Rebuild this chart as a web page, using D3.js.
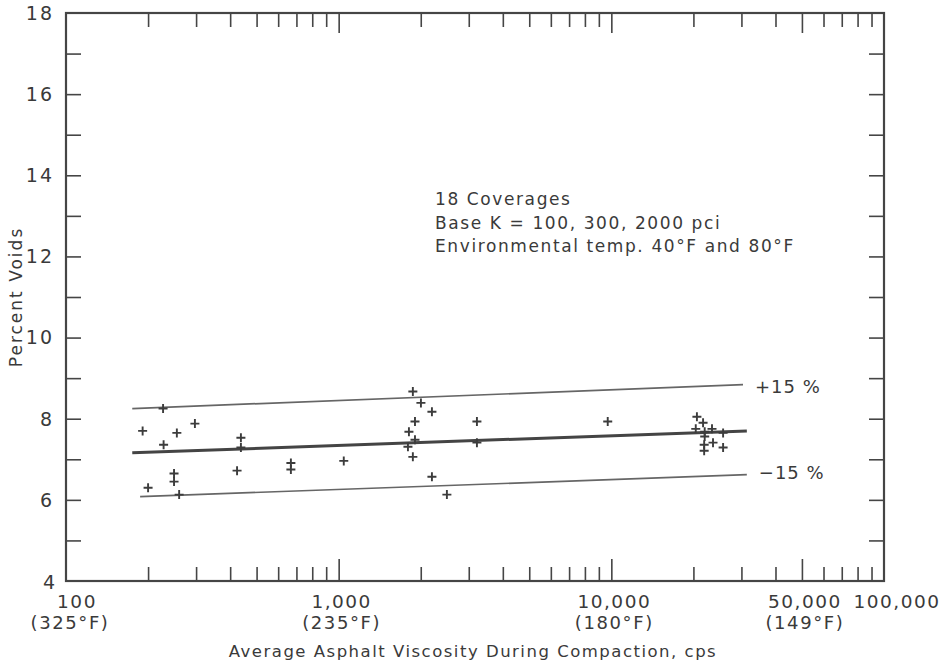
<!DOCTYPE html>
<html>
<head>
  <meta charset="UTF-8" />
  <title>Percent voids vs viscosity</title>
  <script src="https://cdn.jsdelivr.net/npm/d3@7"></script>
  <style>
    body { margin: 0; background: #fff; }
    text { font-family: "DejaVu Sans", sans-serif; fill: #3a3a3a; }
  </style>
</head>
<body>
  <svg width="945" height="663"></svg>
  <script>
    // data
    var viscosity = [191, 227, 255, 297, 228, 200, 249, 249, 260, 438, 438, 424, 668, 668, 1044,
      1871, 2003, 2198, 1905, 1810, 1905, 1795, 1871, 2198, 2494, 3214, 3214, 9700,
      20600, 21700, 20400, 22000, 23400, 25700, 22000, 21900, 21900, 23600, 25700];
    var voids = [7.70, 8.25, 7.65, 7.88, 7.36, 6.30, 6.65, 6.45, 6.13, 7.53, 7.29, 6.72, 6.91, 6.75, 6.96,
      8.67, 8.39, 8.17, 7.93, 7.68, 7.48, 7.31, 7.06, 6.57, 6.13, 7.93, 7.41, 7.93,
      8.05, 7.90, 7.75, 7.68, 7.75, 7.65, 7.56, 7.36, 7.21, 7.41, 7.29];

    // fitted line and +/-15% band (endpoints)
    var fitX = [175, 31400];
    var fitY = [7.16, 7.70];
    var upperX = [175, 30400];
    var upperY = [8.25, 8.84];
    var lowerX = [187, 31400];
    var lowerY = [6.08, 6.62];

    var yTicks = [4, 6, 8, 10, 12, 14, 16, 18];
    var xLabels = [
      { v: 100, a: "100", b: "(325°F)" },
      { v: 1000, a: "1,000", b: "(235°F)" },
      { v: 10000, a: "10,000", b: "(180°F)" },
      { v: 50000, a: "50,000", b: "(149°F)" },
      { v: 100000, a: "100,000", b: "" }
    ];
    var majorTicks = [1000, 10000, 50000];
    var notes = ["18  Coverages", "Base K = 100, 300, 2000 pci", "Environmental  temp. 40°F and 80°F"];

    var svg = d3.select("svg");
    var marge = { top: 13, left: 66, right: 61, bottom: 82 };
    var width = 945 - marge.left - marge.right;
    var height = 663 - marge.top - marge.bottom;
    var g = svg.append("g").attr("transform", "translate(" + marge.left + "," + marge.top + ")");

    var x = d3.scaleLog().domain([100, 100000]).range([0, width]);
    var y = d3.scaleLinear().domain([4, 18]).range([height, 0]);

    var axisColor = "#454545";

    // minor ticks on log axis
    var minor = [];
    [100, 1000, 10000].forEach(function (d) {
      for (var k = 2; k <= 9; k++) minor.push(d * k);
    });
    minor = minor.filter(function (v) { return majorTicks.indexOf(v) < 0; });

    function styleTicks(s) {
      s.select(".domain").remove();
      s.selectAll("line").attr("stroke", axisColor).attr("stroke-width", 1.6);
    }

    // frame
    g.append("rect").attr("x", 0).attr("y", 0).attr("width", width).attr("height", height)
      .attr("fill", "none").attr("stroke", axisColor).attr("stroke-width", 2.2);

    // bottom ticks (inward)
    g.append("g").attr("transform", "translate(0," + height + ")")
      .call(d3.axisTop(x).tickValues(minor).tickSize(14).tickFormat("")).call(styleTicks);
    g.append("g").attr("transform", "translate(0," + height + ")")
      .call(d3.axisTop(x).tickValues(majorTicks).tickSize(22).tickFormat("")).call(styleTicks);
    // top ticks (inward)
    g.append("g")
      .call(d3.axisBottom(x).tickValues(minor).tickSize(14).tickFormat("")).call(styleTicks);
    g.append("g")
      .call(d3.axisBottom(x).tickValues(majorTicks).tickSize(20).tickFormat("")).call(styleTicks);

    // y ticks, left and right
    var yMinor = d3.range(5, 18);
    g.append("g")
      .call(d3.axisRight(y).tickValues(yMinor).tickSize(15).tickFormat("")).call(styleTicks);
    g.append("g").attr("transform", "translate(" + width + ",0)")
      .call(d3.axisLeft(y).tickValues(yMinor).tickSize(15).tickFormat("")).call(styleTicks);

    // y labels
    g.append("g").selectAll("text").data(yTicks).enter().append("text")
      .attr("x", function (d) { return d === 4 ? -9 : -12; })
      .attr("y", function (d) { return y(d) + (d === 4 ? 1 : 0); })
      .attr("dy", "0.36em")
      .attr("text-anchor", "end")
      .attr("font-size", 19)
      .attr("letter-spacing", 2)
      .text(function (d) { return d; });

    // x labels
    var xl = g.append("g").attr("transform", "translate(0," + height + ")");
    xl.selectAll("text.a").data(xLabels).enter().append("text")
      .attr("class", "a")
      .attr("x", function (d) { return x(d.v) + (d.v === 100 ? 11 : (d.v === 100000 ? 13 : 3)); })
      .attr("y", 27)
      .attr("text-anchor", "middle")
      .attr("font-size", 18.5)
      .attr("letter-spacing", 1.5)
      .text(function (d) { return d.a; });
    xl.selectAll("text.b").data(xLabels).enter().append("text")
      .attr("class", "b")
      .attr("x", function (d) { return x(d.v) + (d.v === 100 ? 4 : 3); })
      .attr("y", 48)
      .attr("text-anchor", "middle")
      .attr("font-size", 18)
      .attr("letter-spacing", 1.6)
      .text(function (d) { return d.b; });

    // axis titles
    svg.append("text")
      .attr("x", 473).attr("y", 657)
      .attr("text-anchor", "middle")
      .attr("font-size", 16.5)
      .attr("letter-spacing", 1.5)
      .text("Average Asphalt Viscosity During Compaction, cps");
    svg.append("text")
      .attr("transform", "translate(22," + (marge.top + height / 2) + ") rotate(-90)")
      .attr("text-anchor", "middle")
      .attr("font-size", 17)
      .attr("letter-spacing", 2)
      .text("Percent Voids");

    // band lines
    var line = d3.line().x(function (d) { return x(d[0]); }).y(function (d) { return y(d[1]); });
    g.append("path").datum(d3.zip(upperX, upperY)).attr("d", line)
      .attr("fill", "none").attr("stroke", "#666").attr("stroke-width", 1.7);
    g.append("path").datum(d3.zip(lowerX, lowerY)).attr("d", line)
      .attr("fill", "none").attr("stroke", "#666").attr("stroke-width", 1.7);
    g.append("path").datum(d3.zip(fitX, fitY)).attr("d", line)
      .attr("fill", "none").attr("stroke", "#444").attr("stroke-width", 3);

    g.append("text").attr("x", x(upperX[1]) + 12).attr("y", y(upperY[1]) + 2)
      .attr("dy", "0.36em").attr("font-size", 18).attr("letter-spacing", 1).text("+15 %");
    g.append("text").attr("x", x(lowerX[1]) + 12).attr("y", y(lowerY[1]) - 2)
      .attr("dy", "0.36em").attr("font-size", 18).attr("letter-spacing", 1).text("\u221215 %");

    // data points as plus marks
    var pts = d3.zip(viscosity, voids);
    g.append("g").selectAll("path").data(pts).enter().append("path")
      .attr("transform", function (d) { return "translate(" + x(d[0]) + "," + y(d[1]) + ")"; })
      .attr("d", "M-4.5,0H4.5M0,-4.5V4.5")
      .attr("fill", "none")
      .attr("stroke", "#3c3c3c")
      .attr("stroke-width", 1.9);

    // annotation
    svg.append("g").selectAll("text").data(notes).enter().append("text")
      .attr("x", 435)
      .attr("y", function (d, i) { return 205 + i * 23.5; })
      .attr("font-size", 17)
      .attr("letter-spacing", 1.6)
      .text(function (d) { return d; });
  </script>
</body>
</html>
